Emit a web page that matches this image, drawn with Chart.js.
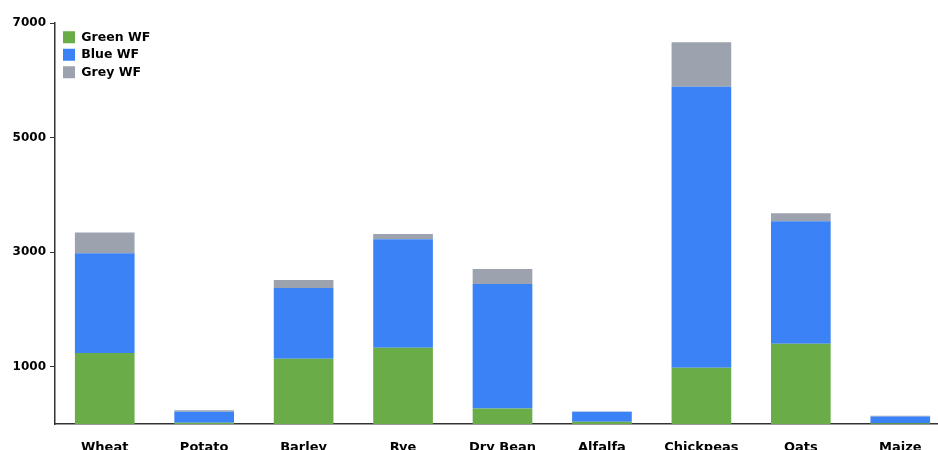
<!DOCTYPE html>
<html>
<head>
<meta charset="utf-8">
<script src="https://cdn.jsdelivr.net/npm/chart.js@4/dist/chart.umd.min.js"></script>
<style>
    html, body { margin: 0; padding: 0; background: #fff; overflow: hidden; }
    #wrap { position: relative; width: 955px; height: 462px; }
</style>
</head>
<body>
<div id="wrap"><canvas id="wfChart"></canvas></div>
<script>
// Crop water footprint data
const crops = ['Wheat', 'Potato', 'Barley', 'Rye', 'Dry Bean', 'Alfalfa', 'Chickpeas', 'Oats', 'Maize'];
const greenWF = [1240, 20, 1140, 1330, 270, 40, 980, 1400, 15];
const blueWF = [1740, 195, 1235, 1895, 2175, 175, 4905, 2140, 115];
const greyWF = [365, 25, 140, 90, 260, 5, 780, 140, 15];
const yTicks = [1000, 3000, 5000, 7000];

const FAMILY = '"DejaVu Sans", sans-serif';

function makeSet(label, data, color) {
    return {
        label: label,
        data: data,
        backgroundColor: color,
        borderWidth: 0,
        barPercentage: 0.6,
        categoryPercentage: 1.0
    };
}

// nudge the in-area legend down/right so it sits like the reference
const legendShift = {
    id: 'legendShift',
    afterLayout(chart) {
        if (chart.legend) {
            chart.legend.top += 26;
            chart.legend.left += 3;
        }
    }
};

new Chart(document.getElementById('wfChart').getContext('2d'), {
    type: 'bar',
    data: {
        labels: crops,
        datasets: [
            makeSet('Green WF', greenWF, '#6aac47'),
            makeSet('Blue WF', blueWF, '#3b82f6'),
            makeSet('Grey WF', greyWF, '#9ca3af')
        ]
    },
    plugins: [legendShift],
    options: {
        responsive: true,
        maintainAspectRatio: false,
        animation: false,
        layout: { padding: { top: 23, right: 5, left: 0, bottom: 0 } },
        plugins: {
            tooltip: { enabled: false },
            legend: {
                position: 'chartArea',
                align: 'start',
                labels: {
                    boxWidth: 12,
                    boxHeight: 12,
                    padding: 5,
                    color: '#000',
                    font: { family: FAMILY, size: 12.5, weight: 'bold' }
                }
            }
        },
        scales: {
            x: {
                stacked: true,
                grid: { display: false },
                border: { display: true, color: '#333', width: 1.5 },
                ticks: { color: '#000', font: { family: FAMILY, size: 13, weight: 'bold' }, padding: 8, maxRotation: 0 },
                afterFit: (scale) => { scale.height = 38; }
            },
            y: {
                stacked: true,
                min: 0,
                max: 7000,
                afterBuildTicks: (scale) => { scale.ticks = yTicks.map(v => ({ value: v })); },
                grid: { display: true, drawOnChartArea: false, drawTicks: true, tickLength: 5, color: '#333' },
                border: { display: true, color: '#333', width: 1.5 },
                ticks: { color: '#000', font: { family: FAMILY, size: 12, weight: 'bold' }, padding: 4, callback: (v) => String(v) },
                afterFit: (scale) => { scale.width = 55; }
            }
        }
    }
});
</script>
</body>
</html>
